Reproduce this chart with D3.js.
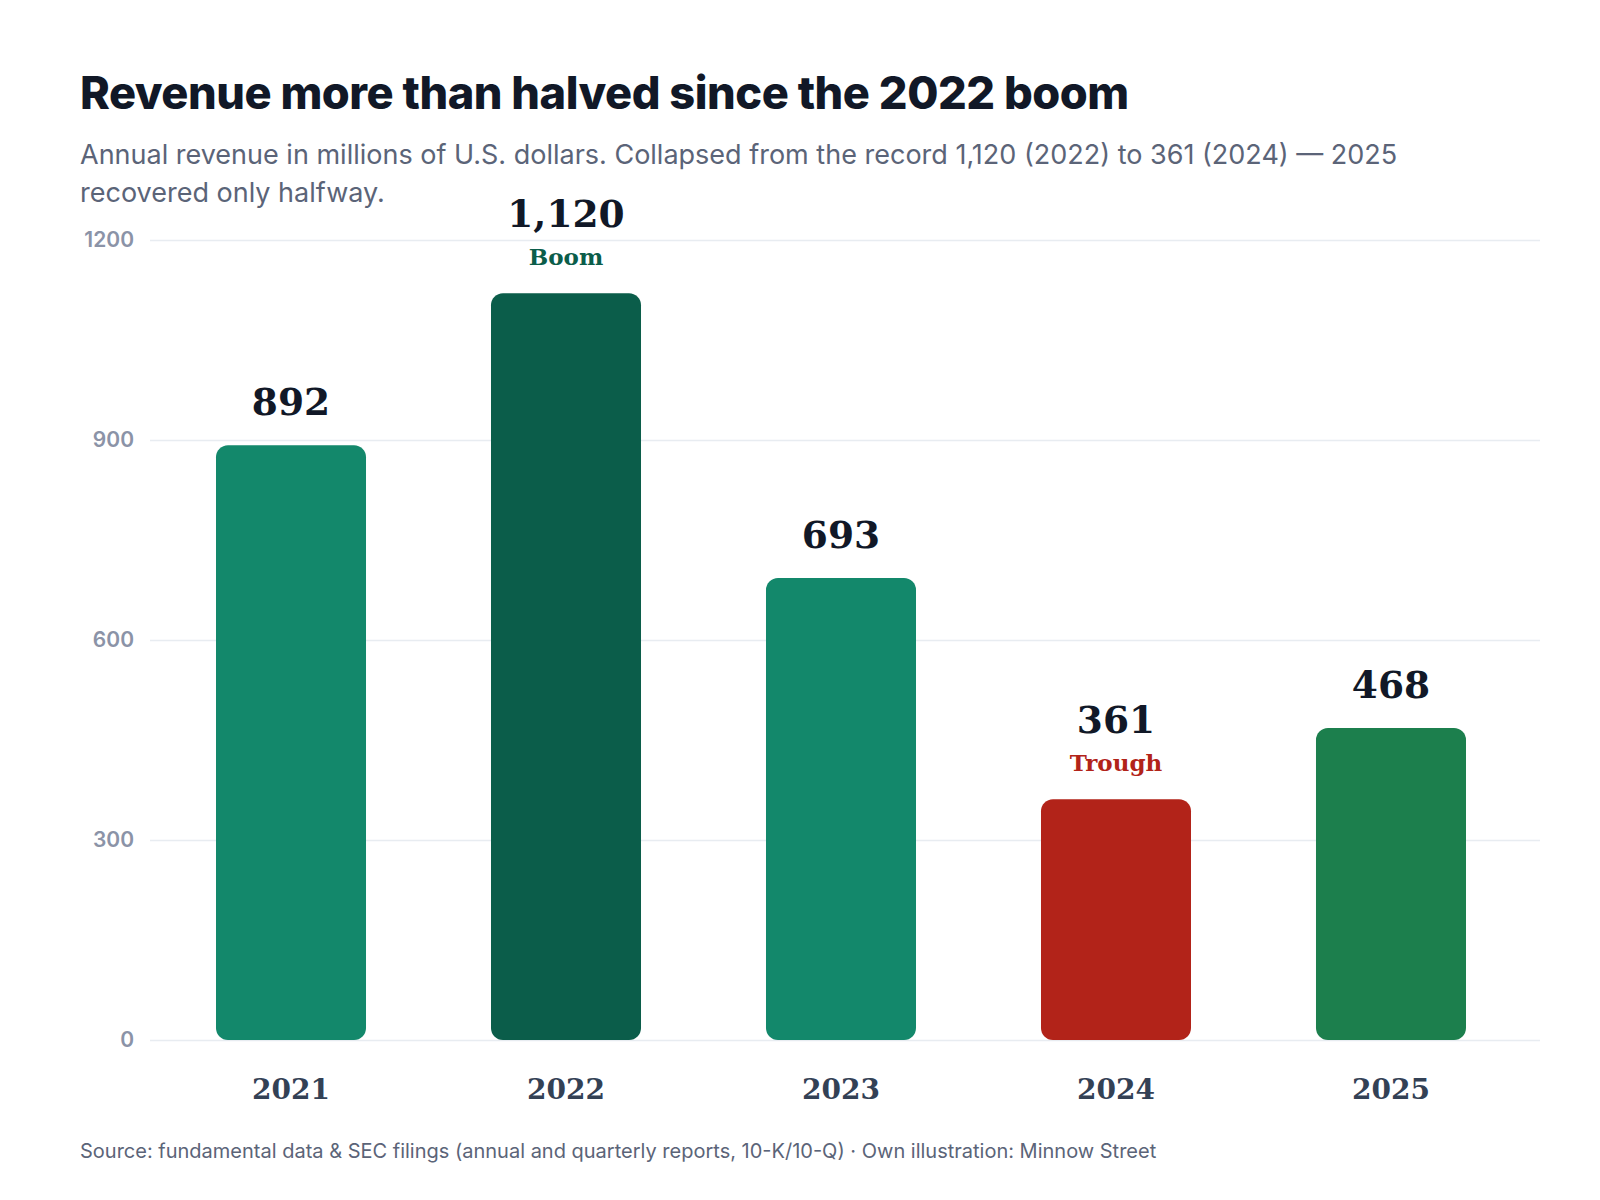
<!DOCTYPE html>
<html>
<head>
<meta charset="utf-8">
<script src="https://cdn.jsdelivr.net/npm/d3@7"></script>
<style>
  html, body { margin: 0; padding: 0; background: #ffffff; }
  svg { display: block; }
</style>
</head>
<body>
<svg id="chart" width="1600" height="1200"></svg>
<script>
// ---- data ----
const years = ["2021", "2022", "2023", "2024", "2025"];
const revenue = [892, 1120, 693, 361, 468];
const notes = ["", "Boom", "", "Trough", ""];
const yTicks = [0, 300, 600, 900, 1200];

const titleText = "Revenue more than halved since the 2022 boom";
const subtitleLines = [
  "Annual revenue in millions of U.S. dollars. Collapsed from the record 1,120 (2022) to 361 (2024) \u2014 2025",
  "recovered only halfway."
];
const sourceText = "Source: fundamental data & SEC filings (annual and quarterly reports, 10-K/10-Q) \u00b7 Own illustration: Minnow Street";

// ---- styles ----
const palette = {
  "2021": "#13886b",
  "2022": "#0b5d4a",
  "2023": "#13886b",
  "2024": "#b22319",
  "2025": "#1c7f4d"
};
const noteColor = { "Boom": "#0b5d4a", "Trough": "#b22319" };

const svg = d3.select("#chart");
const sans = "Inter, 'Noto Sans', sans-serif";
const serif = "'DejaVu Serif', serif";

const W = 1600, H = 1200;
const plot = { left: 150, right: 1540, top: 240, bottom: 1040 };

const x = d3.scaleBand()
  .domain(years)
  .range([plot.left, 1532])
  .paddingInner(0.4545)
  .paddingOuter(0.24);

const y = d3.scaleLinear()
  .domain([0, 1200])
  .range([plot.bottom, plot.top]);

// title & subtitle
svg.append("text")
  .attr("x", 80).attr("y", 109)
  .attr("font-family", sans)
  .attr("font-weight", 800)
  .attr("font-size", 45.2)
  .attr("letter-spacing", "-0.5")
  .attr("fill", "#111827")
  .text(titleText);

svg.append("g").selectAll("text")
  .data(subtitleLines)
  .join("text")
  .attr("x", 80)
  .attr("y", (d, i) => 164 + i * 38)
  .attr("font-family", sans)
  .attr("font-size", 27)
  .attr("fill", "#5b6478")
  .text(d => d);

// y axis with gridlines
const yAxis = svg.append("g")
  .attr("transform", `translate(${plot.left},0)`)
  .call(d3.axisLeft(y)
    .tickValues(yTicks)
    .tickSize(-(plot.right - plot.left))
    .tickPadding(16)
    .tickFormat(d3.format("d")));
yAxis.select(".domain").remove();
yAxis.selectAll(".tick line")
  .attr("stroke", "#e8ecf1")
  .attr("stroke-width", 1.5);
yAxis.selectAll(".tick text")
  .attr("font-family", sans)
  .attr("font-weight", 600)
  .attr("font-size", 21)
  .attr("fill", "#8b93a7");

// bars
svg.append("g").selectAll("rect")
  .data(years)
  .join("rect")
  .attr("x", d => x(d))
  .attr("y", (d, i) => y(revenue[i]))
  .attr("width", x.bandwidth())
  .attr("height", (d, i) => y(0) - y(revenue[i]))
  .attr("rx", 12).attr("ry", 12)
  .attr("fill", d => palette[d]);

// notes
svg.append("g").selectAll("text")
  .data(years.filter((d, i) => notes[i]))
  .join("text")
  .attr("x", d => x(d) + x.bandwidth() / 2)
  .attr("y", d => y(revenue[years.indexOf(d)]) - 28)
  .attr("text-anchor", "middle")
  .attr("font-family", serif)
  .attr("font-weight", 700)
  .attr("font-size", 23)
  .attr("fill", d => noteColor[notes[years.indexOf(d)]])
  .text(d => notes[years.indexOf(d)]);

// value labels
svg.append("g").selectAll("text")
  .data(years)
  .join("text")
  .attr("x", d => x(d) + x.bandwidth() / 2)
  .attr("y", (d, i) => y(revenue[i]) - (notes[i] ? 66 : 30))
  .attr("text-anchor", "middle")
  .attr("font-family", serif)
  .attr("font-weight", 700)
  .attr("font-size", 37.5)
  .attr("fill", "#111827")
  .text((d, i) => d3.format(",")(revenue[i]));

// x axis
const xAxis = svg.append("g")
  .attr("transform", `translate(0,${y(0)})`)
  .call(d3.axisBottom(x).tickSize(0));
xAxis.select(".domain").remove();
xAxis.selectAll(".tick text")
  .attr("y", 59).attr("dy", null)
  .attr("font-family", serif)
  .attr("font-weight", 700)
  .attr("font-size", 28)
  .attr("fill", "#334155");

// source
svg.append("text")
  .attr("x", 80).attr("y", 1158)
  .attr("font-family", sans)
  .attr("font-size", 20)
  .attr("fill", "#5b6478")
  .text(sourceText);
</script>
</body>
</html>
